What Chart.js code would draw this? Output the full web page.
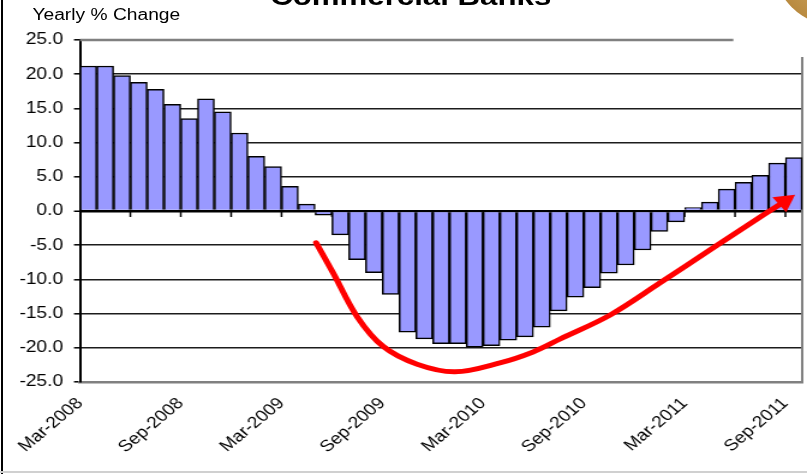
<!DOCTYPE html>
<html>
<head>
<meta charset="utf-8">
<script src="https://cdn.jsdelivr.net/npm/chart.js@4.4.0/dist/chart.umd.min.js"></script>
<style>
  html, body { margin: 0; padding: 0; background: #fff; }
  #frame { position: relative; width: 807px; height: 474px; overflow: hidden; background: #fff; }
  /* the original picture is stretched sideways, so draw narrow and stretch */
  #stretch { position: absolute; left: 0; top: 0; width: 680px; height: 474px; transform: scaleX(1.2009); transform-origin: 0 0; }
  #chart { position: absolute; left: 0; top: 0; }
  #title { position: absolute; left: 0; width: 684px; top: -17px; text-align: center;
           font: bold 26px "Liberation Sans", Arial, sans-serif; line-height: 1; color: #000; }
  #ytitle { position: absolute; left: 27px; top: 7px; font: 16px "Liberation Sans", Arial, sans-serif;
            line-height: 1; color: #000; white-space: nowrap; }
  #leftedge { position: absolute; left: 1px; top: 0; width: 2px; height: 474px; background: #000; }
  #bottomedge { position: absolute; left: 0; top: 471px; width: 807px; height: 2px; background: #d0d0d0; }
  #corner { position: absolute; left: 772px; top: -108px; width: 135px; height: 135px; border-radius: 50%;
            background: radial-gradient(circle at 50% 50%, #d9b676 0%, #b8893e 72%, #6e4714 90%, #3e270a 100%); }
</style>
</head>
<body>
<div id="frame">
  <div id="stretch">
    <canvas id="chart" width="679" height="474" style="width:679px;height:474px"></canvas>
    <div id="title">Commercial Banks</div>
    <div id="ytitle">Yearly % Change</div>
  </div>
  <div id="leftedge"></div>
  <div id="bottomedge"></div>
  <div id="corner"></div>
</div>
<script>
// monthly categories
const months = [
    'Mar-2008', 'Apr-2008', 'May-2008', 'Jun-2008', 'Jul-2008', 'Aug-2008',
    'Sep-2008', 'Oct-2008', 'Nov-2008', 'Dec-2008', 'Jan-2009', 'Feb-2009',
    'Mar-2009', 'Apr-2009', 'May-2009', 'Jun-2009', 'Jul-2009', 'Aug-2009',
    'Sep-2009', 'Oct-2009', 'Nov-2009', 'Dec-2009', 'Jan-2010', 'Feb-2010',
    'Mar-2010', 'Apr-2010', 'May-2010', 'Jun-2010', 'Jul-2010', 'Aug-2010',
    'Sep-2010', 'Oct-2010', 'Nov-2010', 'Dec-2010', 'Jan-2011', 'Feb-2011',
    'Mar-2011', 'Apr-2011', 'May-2011', 'Jun-2011', 'Jul-2011', 'Aug-2011',
    'Sep-2011'
]

// yearly % change
const yoyChange = [
    21.2, 21.2, 19.8, 18.8, 17.8, 15.6,
    13.5, 16.4, 14.5, 11.4, 8.0, 6.5,
    3.6, 1.0, -0.6, -3.5, -7.1, -9.0,
    -12.2, -17.7, -18.7, -19.4, -19.4, -19.9,
    -19.7, -18.9, -18.4, -17.0, -14.6, -12.6,
    -11.2, -9.1, -7.9, -5.7, -3.0, -1.6,
    0.5, 1.3, 3.2, 4.2, 5.2, 7.0,
    7.8
]

const shownLabels = ['Mar-2008', 'Sep-2008', 'Mar-2009', 'Sep-2009', 'Mar-2010', 'Sep-2010', 'Mar-2011', 'Sep-2011']

// the red hand drawn arrow, in month index / % units
const arrowIdx = [13.56, 14.57, 16.0, 17.55, 19.57, 21.83, 24.5, 26.48, 28.1, 31.07, 34.04, 37.0, 40.0, 41.45]
const arrowPct = [-4.66, -9.04, -15.45, -19.8, -22.4, -23.5, -22.2, -20.6, -18.7, -15.2, -10.5, -5.7, -0.87, 1.4]

const yMin = -25
const yMax = 25
const yStep = 5

const font = 'Liberation Sans, Arial, sans-serif'

const extras = {
    id: 'extras',
    beforeDatasetsDraw(chart) {
        const {ctx, chartArea: a, scales: {x, y}} = chart
        const y0 = y.getPixelForValue(0)
        ctx.save()
        // short marks under the zero line every quarter
        ctx.strokeStyle = '#000'
        ctx.lineWidth = 1.5
        for (let i = 3; i < months.length; i += 3) {
            const px = x.getPixelForValue(i - 0.5)
            ctx.beginPath()
            ctx.moveTo(px, y0)
            ctx.lineTo(px, y0 + 6)
            ctx.stroke()
        }
        // grey top line and right edge of the plot frame
        ctx.strokeStyle = '#808080'
        ctx.lineWidth = 2.5
        const yTop = y.getPixelForValue(yMax)
        ctx.beginPath()
        ctx.moveTo(a.left, yTop)
        ctx.lineTo(x.getPixelForValue(38.4), yTop)
        ctx.stroke()
        ctx.lineWidth = 2
        ctx.beginPath()
        ctx.moveTo(a.right, y.getPixelForValue(22.5))
        ctx.lineTo(a.right, a.bottom)
        ctx.stroke()
        ctx.restore()
    }
}

const ctx = document.getElementById('chart')
const myChart = new Chart(ctx, {
    type: 'bar',
    plugins: [extras],
    data: {
        labels: months,
        datasets: [{
            type: 'line',
            xAxisID: 'xa',
            order: 0,
            data: arrowIdx.map((v, i) => ({x: v, y: arrowPct[i]})),
            borderColor: '#ff0000',
            backgroundColor: '#ff0000',
            borderWidth: 5,
            tension: 0.35,
            borderCapStyle: 'round',
            pointRadius: (c) => c.dataIndex === arrowIdx.length - 1 ? 11 : 0,
            pointStyle: 'triangle',
            pointRotation: 53,
            pointBorderWidth: 0,
            pointHoverRadius: 0
        }, {
            order: 1,
            data: yoyChange,
            grouped: false,
            backgroundColor: '#9999ff',
            borderColor: '#000',
            borderWidth: 1.5,
            barPercentage: 1,
            categoryPercentage: 1
        }]
    },
    options: {
        responsive: false,
        animation: false,
        layout: {
            padding: {top: 40, right: 4, left: 0, bottom: 0}
        },
        plugins: {
            legend: {display: false},
            tooltip: {enabled: false}
        },
        scales: {
            x: {
                grid: {display: false},
                border: {display: true, color: '#808080', width: 2.5},
                ticks: {
                    autoSkip: false,
                    minRotation: 45,
                    maxRotation: 45,
                    labelOffset: -7,
                    padding: 4,
                    color: '#000',
                    font: {family: font, size: 16},
                    callback: function (v, i) {
                        return shownLabels.includes(months[i]) ? months[i] : ''
                    }
                },
                afterFit(scale) {
                    scale.height = 92
                    scale.paddingLeft = 0
                    scale.paddingRight = 0
                }
            },
            xa: {
                type: 'linear',
                display: false,
                offset: false,
                bounds: 'data',
                min: -0.5,
                max: months.length - 0.5,
                ticks: {display: false},
                afterFit(scale) {
                    scale.paddingLeft = 0
                    scale.paddingRight = 0
                }
            },
            y: {
                min: yMin,
                max: yMax,
                ticks: {
                    stepSize: yStep,
                    padding: 9,
                    color: '#000',
                    font: {family: font, size: 16},
                    callback: (v) => v.toFixed(1)
                },
                grid: {
                    color: (c) => {
                        const v = c.tick ? c.tick.value : null
                        if (v === yMax || v === yMin) return 'rgba(0,0,0,0)'
                        return v === 0 ? '#000' : '#1c1c1c'
                    },
                    lineWidth: (c) => c.tick && c.tick.value === 0 ? 2.5 : 1.6,
                    tickLength: 5,
                    tickColor: '#000',
                    tickWidth: 1.5
                },
                border: {display: true, color: '#000', width: 2},
                afterFit(scale) {
                    scale.width = 66.6
                }
            }
        }
    }
})
</script>
</body>
</html>
